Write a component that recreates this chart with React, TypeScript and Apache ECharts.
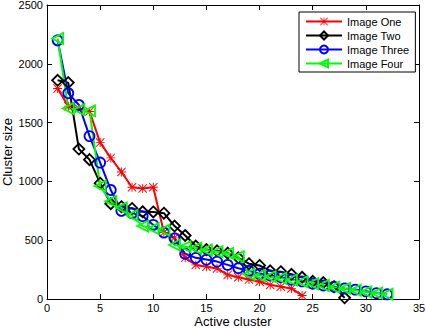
import React, { useEffect, useRef } from "react";
import * as echarts from "echarts";

const seriesNames = ["Image One", "Image Two", "Image Three", "Image Four"];
const imageOne = [1790, 1640, 1620, 1595, 1330, 1200, 1080, 950, 940, 950, 565, 520, 350, 290, 275, 260, 205, 185, 165, 147, 120, 105, 90, 30];
const imageTwo = [1860, 1840, 1275, 1185, 985, 810, 785, 770, 742, 740, 730, 620, 540, 450, 420, 410, 390, 350, 300, 285, 240, 232, 210, 185, 150, 140, 105, 10];
const imageThree = [2200, 1750, 1650, 1385, 1160, 927, 750, 730, 705, 630, 565, 516, 385, 350, 335, 318, 290, 262, 240, 215, 200, 185, 165, 150, 130, 115, 105, 90, 80, 65, 50, 40];
const imageFour = [2215, 1620, 1610, 1600, 960, 830, 775, 710, 620, 600, 586, 459, 445, 431, 417, 402, 388, 360, 210, 200, 190, 176, 161, 147, 130, 115, 100, 90, 75, 60, 50, 40];
const xTicks = [0, 5, 10, 15, 20, 25, 30, 35];
const yTicks = [0, 500, 1000, 1500, 2000, 2500];

const FONT = "'Liberation Sans', Arial, Helvetica, sans-serif";
const ASTERISK =
  "path://M0 9H20V11H0Z M9 0H11V20H9Z M1.5 0L20 18.5L18.5 20L0 1.5Z M18.5 0L20 1.5L1.5 20L0 18.5Z";

function toPairs(vals: number[]) {
  return vals.map((v, i) => [i + 1, v]);
}

export default function App() {
  const ref = useRef<HTMLDivElement>(null);
  useEffect(() => {
    if (!ref.current) return;
    const chart = echarts.init(ref.current, null, { renderer: "svg" });
    const xMin = xTicks[0];
    const xMax = xTicks[xTicks.length - 1];
    const yMin = yTicks[0];
    const yMax = yTicks[yTicks.length - 1];
    const axisCommon = {
      axisLine: { show: true, onZero: false, lineStyle: { color: "#000", width: 1 } },
      axisTick: { show: true, inside: true, length: 5, lineStyle: { color: "#000" } },
      splitLine: { show: false },
    };
    const mk = (
      name: string,
      vals: number[],
      color: string,
      symbol: string,
      size: number,
      filled: boolean,
      rotate = 0
    ) => ({
      name,
      type: "line",
      data: toPairs(vals),
      symbol,
      symbolSize: size,
      symbolRotate: rotate,
      showSymbol: true,
      lineStyle: { color, width: 2 },
      itemStyle: filled
        ? { color, borderWidth: 0 }
        : { color: "rgba(0,0,0,0)", borderColor: color, borderWidth: 1.8 },
      emphasis: { disabled: true },
    });
    chart.setOption({
      animation: false,
      backgroundColor: "#fff",
      textStyle: { fontFamily: FONT },
      grid: {
        left: 47,
        right: 7,
        top: 5,
        bottom: 29,
        containLabel: false,
        outerBoundsMode: "none",
      },
      legend: {
        show: true,
        orient: "vertical",
        left: 299,
        top: 12,
        padding: [4, 6, 3, 6],
        itemGap: 3,
        itemWidth: 36,
        itemHeight: 10,
        backgroundColor: "#fff",
        borderColor: "#000",
        borderWidth: 1,
        borderRadius: 0,
        textStyle: { fontFamily: FONT, fontSize: 11, color: "#000", padding: [0, 0, 0, 0] },
        data: seriesNames,
      },
      xAxis: [
        {
          type: "value",
          min: xMin,
          max: xMax,
          interval: 5,
          position: "bottom",
          name: "Active cluster",
          nameLocation: "middle",
          nameMoveOverlap: false,
          nameGap: 16,
          nameTextStyle: { fontFamily: FONT, fontSize: 13, color: "#000", lineHeight: 12 },
          axisLabel: { fontFamily: FONT, fontSize: 11, color: "#000", margin: 3, lineHeight: 11 },
          ...axisCommon,
        },
        {
          type: "value",
          min: xMin,
          max: xMax,
          interval: 5,
          position: "top",
          axisLabel: { show: false },
          ...axisCommon,
        },
      ],
      yAxis: [
        {
          type: "value",
          min: yMin,
          max: yMax,
          interval: 500,
          position: "left",
          name: "Cluster size",
          nameLocation: "middle",
          nameMoveOverlap: false,
          nameRotate: 90,
          nameGap: 33,
          nameTextStyle: { fontFamily: FONT, fontSize: 13, color: "#000", lineHeight: 13 },
          axisLabel: {
            fontFamily: FONT,
            fontSize: 11,
            color: "#000",
            margin: 4,
            formatter: (v: number) => String(v),
          },
          ...axisCommon,
        },
        {
          type: "value",
          min: yMin,
          max: yMax,
          interval: 500,
          position: "right",
          axisLabel: { show: false },
          ...axisCommon,
        },
      ],
      series: [
        mk(seriesNames[0], imageOne, "#ff0000", ASTERISK, 9, true),
        mk(seriesNames[1], imageTwo, "#000000", "diamond", 11, false),
        mk(seriesNames[2], imageThree, "#0000ff", "circle", 10, false),
        mk(seriesNames[3], imageFour, "#00ff00", "triangle", 11, false, 90),
      ],
    });
    return () => chart.dispose();
  }, []);
  return <div ref={ref} style={{ width: 426, height: 328, position: "absolute", left: 0, top: 0 }} />;
}
